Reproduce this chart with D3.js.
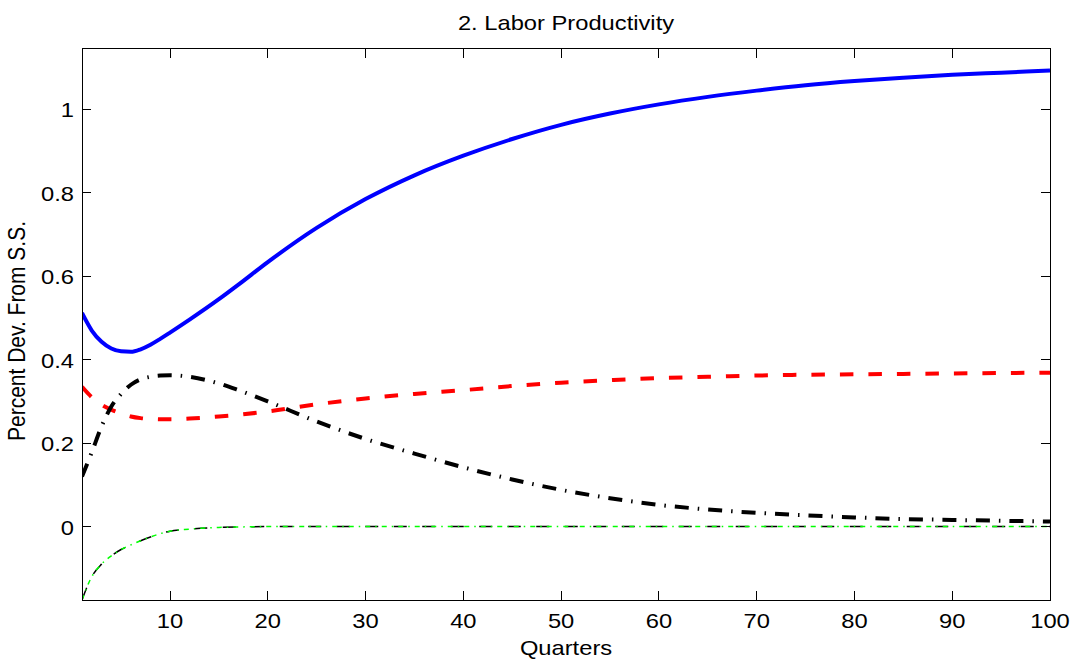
<!DOCTYPE html>
<html>
<head>
<meta charset="utf-8">
<script src="https://cdn.jsdelivr.net/npm/d3@7"></script>
<style>
  body { margin: 0; background: #fff; }
  text { font-family: "Liberation Sans", Arial, sans-serif; font-size: 21px; fill: #000; }
</style>
</head>
<body>
<div id="chart"></div>
<script>
var quarters = [1, 2, 3, 4, 5, 6, 7, 8, 9, 10, 12, 15, 17, 20, 25, 30, 35, 40, 45, 50, 55, 60, 65, 70, 75, 80, 85, 90, 95, 100]

var blue_vals = [0.512, 0.470, 0.443, 0.427, 0.420, 0.419, 0.425, 0.436, 0.450, 0.465, 0.496, 0.545, 0.580, 0.634, 0.716, 0.785, 0.842, 0.889, 0.929, 0.963, 0.990, 1.012, 1.030, 1.045, 1.058, 1.068, 1.076, 1.083, 1.088, 1.093]
var red_vals = [0.335, 0.310, 0.292, 0.280, 0.271, 0.264, 0.260, 0.258, 0.257, 0.257, 0.259, 0.264, 0.268, 0.276, 0.293, 0.307, 0.318, 0.327, 0.337, 0.345, 0.351, 0.356, 0.359, 0.362, 0.364, 0.365, 0.366, 0.367, 0.368, 0.369]
var black_vals = [0.120, 0.178, 0.240, 0.288, 0.318, 0.340, 0.353, 0.359, 0.362, 0.363, 0.359, 0.343, 0.327, 0.300, 0.252, 0.210, 0.175, 0.142, 0.113, 0.088, 0.068, 0.052, 0.041, 0.033, 0.027, 0.022, 0.018, 0.016, 0.014, 0.012]
var thin_vals = [-0.176, -0.120, -0.090, -0.070, -0.055, -0.044, -0.034, -0.025, -0.017, -0.011, -0.006, -0.002, -0.001, 0, 0, 0, 0, 0, 0, 0, 0, 0, 0, 0, 0, 0, 0, 0, 0, 0]

var x_ticks = [10, 20, 30, 40, 50, 60, 70, 80, 90, 100]
var y_ticks = [0, 0.2, 0.4, 0.6, 0.8, 1]

var width = 1078, height = 661
var plot = { left: 82, right: 1050, top: 48.5, bottom: 600 }
var stretch = 1.13 // text in the reference is a bit wide
var tick_len = 9

var svg = d3.select("#chart").append("svg")
  .attr("width", width)
  .attr("height", height)

var x = d3.scaleLinear().domain([1, 100]).range([plot.left, plot.right])
var y = d3.scaleLinear().domain([-0.176, 1.146]).range([plot.bottom, plot.top])

svg.append("defs").append("clipPath")
  .attr("id", "plot_clip")
  .append("rect")
    .attr("x", plot.left)
    .attr("y", plot.top)
    .attr("width", plot.right - plot.left)
    .attr("height", plot.bottom - plot.top)

function series(vals) {
  return quarters.map(function (q, i) { return [q, vals[i]] })
}

var line = d3.line()
  .x(function (d) { return x(d[0]) })
  .y(function (d) { return y(d[1]) })
  .curve(d3.curveMonotoneX)

var lines_g = svg.append("g").attr("clip-path", "url(#plot_clip)")

var styles = [
  { vals: blue_vals, color: "#0000ff", w: 4, dash: null },
  { vals: red_vals, color: "#ff0000", w: 4, dash: "13.5,15" },
  { vals: black_vals, color: "#000000", w: 4, dash: "14,9,1.5,9" },
  { vals: thin_vals, color: "#000000", w: 1.5, dash: "13,15.5" },
  { vals: thin_vals, color: "#00ff00", w: 1.5, dash: "5,5,1.5,5" }
]

styles.forEach(function (s) {
  lines_g.append("path")
    .attr("d", line(series(s.vals)))
    .attr("fill", "none")
    .attr("stroke", s.color)
    .attr("stroke-width", s.w)
    .attr("stroke-dasharray", s.dash)
})

// box with inward ticks on all four sides
var axes_g = svg.append("g")
  .attr("stroke", "#000")
  .attr("stroke-width", 1)
  .attr("shape-rendering", "crispEdges")

axes_g.append("rect")
  .attr("x", plot.left)
  .attr("y", plot.top)
  .attr("width", plot.right - plot.left)
  .attr("height", plot.bottom - plot.top)
  .attr("fill", "none")

x_ticks.forEach(function (t) {
  axes_g.append("line")
    .attr("x1", x(t)).attr("x2", x(t))
    .attr("y1", plot.bottom).attr("y2", plot.bottom - tick_len)
  axes_g.append("line")
    .attr("x1", x(t)).attr("x2", x(t))
    .attr("y1", plot.top).attr("y2", plot.top + tick_len)
})

y_ticks.forEach(function (t) {
  axes_g.append("line")
    .attr("x1", plot.left).attr("x2", plot.left + tick_len)
    .attr("y1", y(t)).attr("y2", y(t))
  axes_g.append("line")
    .attr("x1", plot.right).attr("x2", plot.right - tick_len)
    .attr("y1", y(t)).attr("y2", y(t))
})

function label(px, py, str, anchor, rotate) {
  return svg.append("text")
    .attr("transform", "translate(" + px + "," + py + ") scale(" + stretch + ",1)" + (rotate ? " rotate(" + rotate + ")" : ""))
    .attr("text-anchor", anchor)
    .text(str)
}

x_ticks.forEach(function (t) {
  label(x(t), 628, d3.format("d")(t), "middle")
})

y_ticks.forEach(function (t) {
  label(74, y(t) + 8, t === 0 ? "0" : String(t), "end")
})

var mid_x = (plot.left + plot.right) / 2
label(mid_x, 30, "2. Labor Productivity", "middle")
label(mid_x, 655, "Quarters", "middle")
label(25, 331, "Percent Dev. From S.S.", "middle", -90)
</script>
</body>
</html>
